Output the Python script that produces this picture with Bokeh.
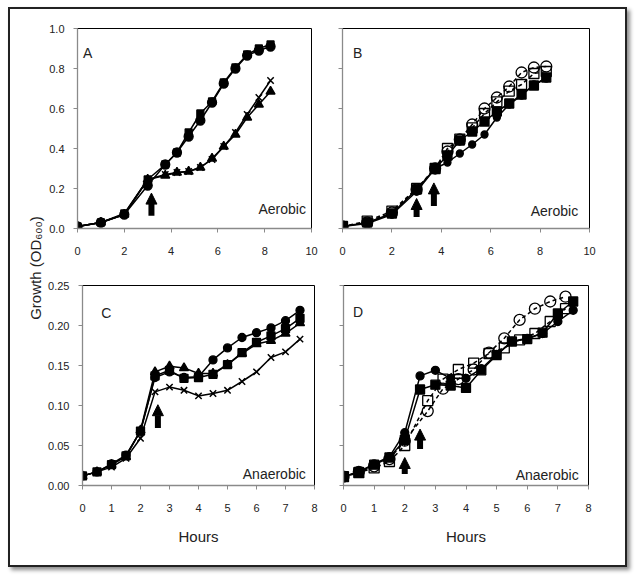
from math import pi
from bokeh.plotting import figure
from bokeh.models import (Arrow, NormalHead, Label, FixedTicker, NumeralTickFormatter,
                          CustomJSTickFormatter, Range1d)
from bokeh.layouts import row, column
from bokeh.embed import file_html
from bokeh.resources import INLINE

FONT = "Liberation Sans"

# ---------------- data ----------------
# Panel A (aerobic)
tA = [0, 1, 2, 3, 3.75, 4.25, 4.75, 5.25, 5.75, 6.25, 6.75, 7.25, 7.75, 8.25]
A_circle = [0.01, 0.03, 0.07, 0.215, 0.32, 0.38, 0.46, 0.54, 0.63, 0.725, 0.80, 0.865, 0.89, 0.91]
A_square = [0.01, 0.03, 0.075, 0.245, 0.32, 0.38, 0.48, 0.575, 0.635, 0.73, 0.805, 0.87, 0.90, 0.92]
A_triangle = [0.01, 0.03, 0.07, 0.245, 0.265, 0.28, 0.285, 0.305, 0.35, 0.41, 0.47, 0.555, 0.62, 0.685]
A_cross = [0.01, 0.03, 0.07, 0.245, 0.27, 0.28, 0.285, 0.305, 0.345, 0.41, 0.48, 0.57, 0.655, 0.74]

# Panel B (aerobic)
tB = [0, 1, 2, 3, 3.75, 4.25, 4.75, 5.25, 5.75, 6.25, 6.75, 7.25, 7.75, 8.25]
B_fcircle = [0.01, 0.025, 0.07, 0.185, 0.30, 0.33, 0.375, 0.42, 0.47, 0.555, 0.62, 0.665, 0.72, 0.75]
B_fsquare = [0.01, 0.03, 0.075, 0.195, 0.30, 0.365, 0.44, 0.485, 0.535, 0.585, 0.625, 0.67, 0.715, 0.755]
B_ocircle = [0.01, 0.03, 0.08, 0.195, 0.30, 0.385, 0.445, 0.52, 0.60, 0.655, 0.71, 0.78, 0.805, 0.81]
B_osquare = [0.01, 0.037, 0.087, 0.20, 0.30, 0.40, 0.447, 0.503, 0.575, 0.633, 0.687, 0.72, 0.775, 0.785]

# Panel C (anaerobic)
tC = [0, 0.5, 1, 1.5, 2, 2.5, 3, 3.5, 4, 4.5, 5, 5.5, 6, 6.5, 7, 7.5]
C_circle = [0.012, 0.017, 0.027, 0.038, 0.068, 0.135, 0.142, 0.135, 0.136, 0.157, 0.172, 0.185, 0.191, 0.197, 0.206, 0.219]
C_square = [0.012, 0.017, 0.026, 0.037, 0.068, 0.137, 0.144, 0.134, 0.135, 0.139, 0.151, 0.166, 0.179, 0.187, 0.196, 0.209]
C_triangle = [0.012, 0.017, 0.026, 0.036, 0.069, 0.142, 0.149, 0.147, 0.140, 0.140, 0.151, 0.165, 0.177, 0.181, 0.190, 0.203]
C_cross = [0.012, 0.017, 0.023, 0.034, 0.059, 0.117, 0.123, 0.119, 0.112, 0.115, 0.119, 0.130, 0.142, 0.160, 0.167, 0.183]

# Panel D (anaerobic)
tD_filled = [0, 0.5, 1, 1.5, 2, 2.5, 3, 3.5, 4, 4.5, 5, 5.5, 6, 6.5, 7, 7.5]
D_fcircle = [0.011, 0.017, 0.027, 0.036, 0.066, 0.137, 0.144, 0.134, 0.134, 0.146, 0.164, 0.180, 0.184, 0.190, 0.205, 0.219]
D_fsquare = [0.011, 0.017, 0.026, 0.035, 0.057, 0.120, 0.126, 0.125, 0.122, 0.144, 0.163, 0.180, 0.183, 0.191, 0.215, 0.230]
tD_open = [0, 0.5, 1, 1.5, 2, 2.75, 3.25, 3.75, 4.25, 4.75, 5.25, 5.75, 6.25, 6.75, 7.25]
D_ocircle = [0.011, 0.017, 0.024, 0.033, 0.056, 0.093, 0.121, 0.133, 0.145, 0.166, 0.184, 0.207, 0.221, 0.230, 0.236]
D_osquare = [0.011, 0.016, 0.022, 0.030, 0.050, 0.106, 0.133, 0.145, 0.153, 0.165, 0.172, 0.182, 0.190, 0.205, 0.221]

# arrows (time, start OD, end OD)
A_arrows = [(3.16, 0.064, 0.177)]
B_arrows = [(3.0, 0.058, 0.150), (3.7, 0.113, 0.228)]
C_arrows = [(2.6, 0.072, 0.101)]
D_arrows = [(2.0, 0.0145, 0.035), (2.5, 0.0456, 0.0705)]

A_ticks_x = [0, 2, 4, 6, 8, 10]
A_ticks_y = [0, 0.2, 0.4, 0.6, 0.8, 1.0]
C_ticks_x = [0, 1, 2, 3, 4, 5, 6, 7, 8]
C_ticks_y = [0, 0.05, 0.10, 0.15, 0.20, 0.25]


def panel(width, height, left, right, top, bottom, xmax, xticks, ymax, yticks,
          yfmt, xlabel=None):
    p = figure(width=width, height=height, x_range=Range1d(0, xmax),
               y_range=Range1d(0, ymax), output_backend="svg",
               toolbar_location=None, min_border_left=left,
               min_border_right=right, min_border_top=top,
               min_border_bottom=bottom)
    p.grid.visible = False
    p.outline_line_color = "black"
    p.outline_line_width = 1
    p.background_fill_color = "white"
    p.border_fill_color = "white"
    for ax in (p.xaxis[0], p.yaxis[0]):
        ax.axis_line_color = "#8a8a8a"
        ax.axis_line_width = 1.3
        ax.major_tick_line_color = "#8a8a8a"
        ax.major_tick_in = 0
        ax.major_tick_out = 4
        ax.minor_tick_line_color = None
        ax.major_label_text_font = FONT
        ax.major_label_text_font_size = "11px"
        ax.major_label_text_color = "#222222"
    p.xaxis.ticker = FixedTicker(ticks=xticks)
    p.yaxis.ticker = FixedTicker(ticks=yticks)
    p.xaxis.major_label_standoff = 14
    p.yaxis.major_label_standoff = 9
    if yfmt is None:
        p.yaxis.formatter = CustomJSTickFormatter(code="return ''")
    else:
        p.yaxis.formatter = NumeralTickFormatter(format=yfmt)
    if xlabel:
        p.xaxis.axis_label = xlabel
        p.xaxis.axis_label_text_font = FONT
        p.xaxis.axis_label_text_font_size = "15px"
        p.xaxis.axis_label_text_font_style = "normal"
        p.xaxis.axis_label_text_color = "#222222"
        p.xaxis.axis_label_standoff = 13
    return p


def series(p, x, y, marker, size, filled=True, dashed=False, lw=1.5):
    p.line(x, y, line_color="black", line_width=lw,
           line_dash="4 3" if dashed else "solid")
    if marker == "x":
        p.scatter(x, y, marker="x", size=size, line_color="black", line_width=1.5)
    else:
        p.scatter(x, y, marker=marker, size=size, line_color="black",
                  line_width=1.3, fill_color="black" if filled else None)


def arrows(p, specs, head=11, lw=6):
    for x, y0, y1 in specs:
        p.add_layout(Arrow(end=NormalHead(size=head, fill_color="black",
                                          line_color="black", line_width=1),
                           x_start=x, y_start=y0, x_end=x, y_end=y1,
                           line_color="black", line_width=lw))


def tag(p, x, y, text, align="left"):
    p.add_layout(Label(x=x, y=y, text=text, text_font=FONT,
                       text_font_size="14px", text_color="#222222",
                       text_align=align, text_baseline="middle"))


# ---------------- panels ----------------
pA = panel(281, 256, 32, 15, 19, 37, 10, A_ticks_x, 1.0, A_ticks_y, "0.0")
series(pA, tA, A_cross, "x", 9)
series(pA, tA, A_triangle, "triangle", 9)
series(pA, tA, A_square, "square", 7)
series(pA, tA, A_circle, "circle", 9)
arrows(pA, A_arrows)
tag(pA, 0.23, 0.88, "A")
tag(pA, 9.76, 0.10, "Aerobic", "right")

pB = panel(299, 256, 16, 36, 19, 37, 10, A_ticks_x, 1.0, A_ticks_y, None)
series(pB, tB, B_ocircle, "circle", 11, filled=False, dashed=True)
series(pB, tB, B_osquare, "square", 10, filled=False, dashed=True)
series(pB, tB, B_fsquare, "square", 9)
series(pB, tB, B_fcircle, "circle", 7)
arrows(pB, B_arrows)
tag(pB, 0.43, 0.88, "B")
tag(pB, 9.54, 0.09, "Aerobic", "right")

pC = panel(281, 300, 36, 12, 20, 80, 8, C_ticks_x, 0.25, C_ticks_y, "0.00", "Hours")
series(pC, tC, C_cross, "x", 9)
series(pC, tC, C_triangle, "triangle", 9)
series(pC, tC, C_square, "square", 8)
series(pC, tC, C_circle, "circle", 8)
arrows(pC, C_arrows)
tag(pC, 0.65, 0.216, "C")
tag(pC, 7.7, 0.0146, "Anaerobic", "right")

pD = panel(299, 300, 17, 37, 20, 80, 8, C_ticks_x, 0.25, C_ticks_y, None, "Hours")
series(pD, tD_open, D_ocircle, "circle", 11, filled=False, dashed=True)
series(pD, tD_open, D_osquare, "square", 10, filled=False, dashed=True)
series(pD, tD_filled, D_fsquare, "square", 9)
series(pD, tD_filled, D_fcircle, "circle", 8)
arrows(pD, D_arrows)
tag(pD, 0.31, 0.217, "D")
tag(pD, 7.68, 0.0137, "Anaerobic", "right")

# y-axis title figure
pL = figure(width=35, height=556, x_range=Range1d(0, 1), y_range=Range1d(0, 1),
            output_backend="svg", toolbar_location=None, min_border=0)
pL.axis.visible = False
pL.grid.visible = False
pL.outline_line_color = None
pL.add_layout(Label(x=0.71, y=0.535, text="Growth (OD\u2086\u2080\u2080)", angle=pi / 2,
                    text_font=FONT, text_font_size="15px", text_color="#222222",
                    text_align="center", text_baseline="middle"))

layout = row(pL, column(row(pA, pB), row(pC, pD)),
             styles={"border": "2px solid #222", "margin-left": "8px", "margin-top": "7px",
                     "box-shadow": "3px 3px 4px rgba(0,0,0,0.45)"})

open("out.html", "w").write(file_html(layout, INLINE))
